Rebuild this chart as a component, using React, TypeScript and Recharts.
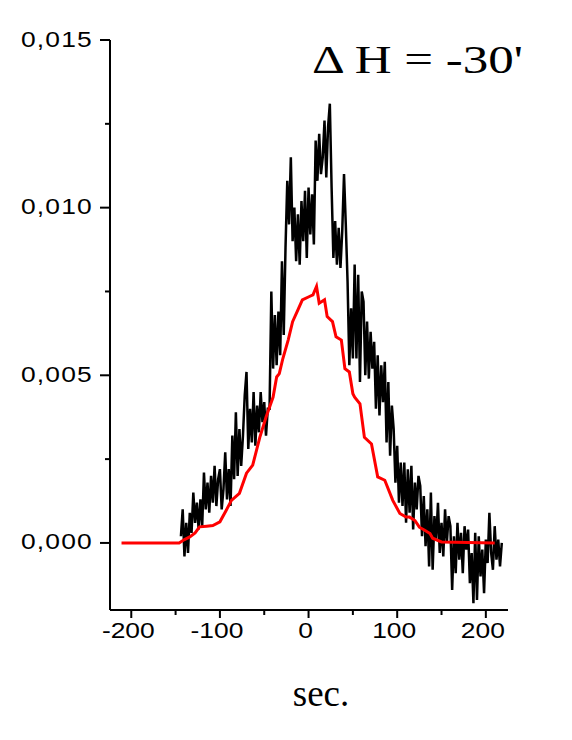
import React from 'react';
import { LineChart, Line, XAxis, YAxis } from 'recharts';

// black trace: sampled every 2 s starting at -144 s, values in units of 1e-3
const blackStart = -144;
const blackStep = 2;
const blackValues = [
  0.2, 1.0, -0.4, 0.6, -0.3, 0.9,
  0.3, 1.5, 0.6, 1.2,
  0.4, 1.3, 0.5,
  2.1, 1.0, 1.8, 0.9, 2.0, 1.2,
  2.3, 1.1, 1.9, 2.2, 1.0, 1.6,
  2.7, 1.3, 2.2, 1.1,
  3.2, 1.9, 3.9,
  2.0, 3.4, 2.3,
  3.2, 4.4, 5.1, 2.8, 4.0,
  3.0, 4.5, 2.9, 4.1, 3.3,
  4.5, 3.6, 4.2, 3.2, 4.0,
  4.0, 7.5, 5.2, 6.8,
  5.3, 6.9,
  5.6, 8.4, 6.2,
  8.8, 10.8, 9.5, 11.5, 9.0,
  10.0, 8.4, 9.8, 8.3, 10.2,
  9.0, 10.5, 8.5, 10.6, 9.2, 10.4, 8.9,
  12.0, 10.8, 12.2, 11.0,
  11.5, 12.6, 10.9, 12.4, 13.1,
  10.6, 8.5, 9.6,
  8.3, 9.4, 8.2,
  9.3, 11.0, 9.5,
  7.8, 5.3, 7.0, 5.5,
  8.3, 5.5, 8.0, 4.8, 7.5,
  7.2, 5.0, 6.6, 4.9, 6.3, 5.2,
  6.0, 4.0, 5.6, 3.8, 5.3, 4.2,
  5.4, 3.0, 4.8, 2.6, 4.1,
  3.4, 1.8, 2.9, 1.2, 2.4, 1.1,
  2.4, 0.6, 2.2, 0.9, 2.3, 0.4, 1.8, 1.0, 2.0,
  1.7, 0.2, 1.4, -0.1, 1.0, -0.7,
  1.5, -0.8, 0.8, 0.1,
  1.2, -0.3, 0.6, -0.4, 1.0, 0.0, 0.8,
  0.5, -1.4, 0.2, -0.9,
  0.6, -0.5, 0.3, -0.9, 0.5, -0.2,
  0.4, -1.2, -0.3, -1.8, 0.3, -1.7,
  0.2, -1.0, -0.2, -1.5, 0.1,
  -0.6, 0.9, -0.3, -0.8, 0.5, -0.5,
  0.1, -0.7, 0.0,
];

// red (smoothed) trace
const redTimes = [
  -211, -146, -140, -134, -128, -123, -115, -108, -100, -93, -87, -78, -70, -63,
  -55, -48, -40, -36, -33, -29, -23, -18, -12, -7, 1, 5, 9, 12, 18, 21, 27, 31,
  37, 41, 46, 50, 52, 58, 63, 71, 78, 86, 95, 103, 110, 114, 120, 125, 131, 137,
  140, 150, 210,
];
const redValues = [
  0, 0, 0.1, 0.18, 0.3, 0.48, 0.5, 0.52, 0.63, 0.97, 1.27, 1.48, 2.08, 2.32,
  3.15, 3.75, 4.35, 4.95, 5.05, 5.5, 6.05, 6.6, 6.95, 7.25, 7.35, 7.4, 7.65, 7.15,
  7.25, 6.75, 6.6, 6.15, 6.05, 5.2, 5.1, 4.45, 4.35, 4.15, 3.15, 2.95, 1.97, 1.87,
  1.27, 0.88, 0.77, 0.77, 0.67, 0.47, 0.38, 0.28, 0.14, 0.03, 0,
];

const xTicks = [-200, -150, -100, -50, 0, 50, 100, 150, 200];
const yTicks = [0, 2.5, 5, 7.5, 10, 12.5, 15];

const blackData = blackValues.map((v, i) => ({ t: blackStart + i * blackStep, v }));
const redData = redTimes.map((t, i) => ({ t, v: redValues[i] }));

const sans = 'Liberation Sans, Arial, Helvetica, sans-serif';
const serif = 'Liberation Serif, Times New Roman, serif';

const fmtY = (v: number) => (v / 1000).toFixed(3).replace('.', ',');

// tick labels in the source are drawn slightly wide, hence the scaleX
const YTick = (props: any) => {
  const { x, y, payload } = props;
  const major = payload.value % 5 === 0;
  return (
    <g>
      <line x1={x - (major ? 10 : 5)} x2={x} y1={y} y2={y} stroke="#000" strokeWidth={2} />
      {major && (
        <text transform={`translate(${x - 17},${y + 6.5}) scale(1.2,1)`} textAnchor="end"
          fontFamily={sans} fontSize={22} letterSpacing={1} fill="#000">
          {fmtY(payload.value)}
        </text>
      )}
    </g>
  );
};

const XTick = (props: any) => {
  const { x, y, payload } = props;
  const major = payload.value % 100 === 0;
  return (
    <g>
      <line x1={x} x2={x} y1={y} y2={y + (major ? 8 : 5)} stroke="#000" strokeWidth={2} />
      {major && (
        <text transform={`translate(${x - 3},${y + 28}) scale(1.2,1)`} textAnchor="middle"
          fontFamily={sans} fontSize={22} fill="#000">
          {payload.value}
        </text>
      )}
    </g>
  );
};

export default function App() {
  return (
    <div style={{ position: 'absolute', left: 0, top: 0, width: 572, height: 740, background: '#fff' }}>
      <LineChart width={572} height={740} margin={{ top: 40, right: 64, bottom: 100, left: 10 }}>
        <XAxis
          type="number"
          dataKey="t"
          domain={[-224, 225]}
          ticks={xTicks}
          interval={0}
          allowDataOverflow
          height={30}
          tickSize={0}
          tickMargin={0}
          tickLine={false}
          axisLine={{ stroke: '#000', strokeWidth: 2 }}
          tick={<XTick />}
        />
        <YAxis
          type="number"
          dataKey="v"
          domain={[-2, 15]}
          ticks={yTicks}
          interval={0}
          allowDataOverflow
          width={100}
          tickSize={0}
          tickMargin={0}
          tickLine={false}
          axisLine={{ stroke: '#000', strokeWidth: 2 }}
          tick={<YTick />}
        />
        <Line data={blackData} dataKey="v" type="linear" stroke="#000" strokeWidth={2.5}
          dot={false} isAnimationActive={false} />
        <Line data={redData} dataKey="v" type="linear" stroke="#ff0000" strokeWidth={3}
          dot={false} isAnimationActive={false} />
      </LineChart>
      <svg width={572} height={740} style={{ position: 'absolute', left: 0, top: 0, pointerEvents: 'none' }}>
        <text x={312} y={73} fontFamily={serif} fontSize={41} textLength={211}
          lengthAdjust="spacingAndGlyphs" fill="#000">
          Δ H = -30'
        </text>
        <text x={321} y={706} textAnchor="middle" fontFamily={serif} fontSize={37} fill="#000">
          sec.
        </text>
      </svg>
    </div>
  );
}
